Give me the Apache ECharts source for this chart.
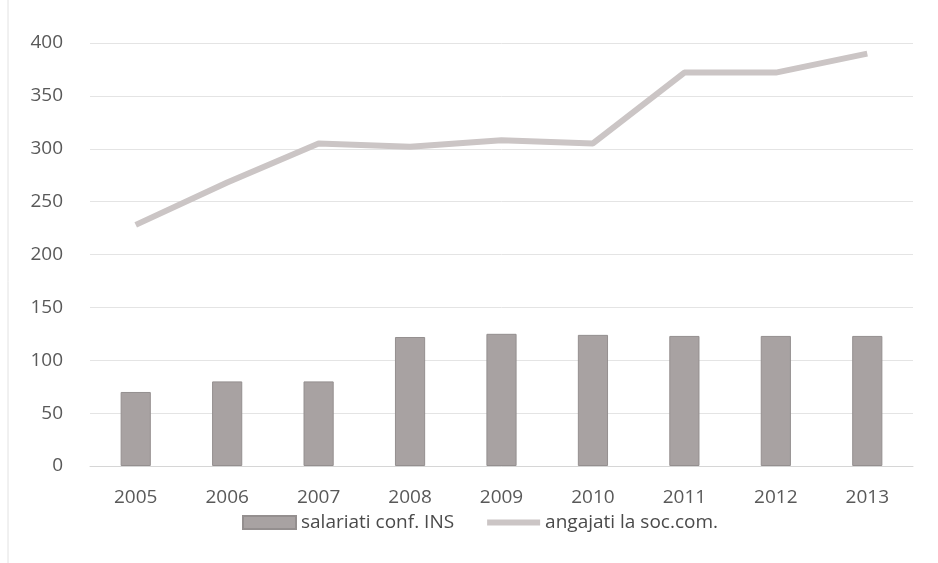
<!DOCTYPE html>
<html><head><meta charset="utf-8">
<script src="https://cdn.jsdelivr.net/npm/echarts@6/dist/echarts.min.js"></script>
<style>html,body{margin:0;padding:0;background:#fff}#c{width:938px;height:563px}</style>
</head><body><div id="c"></div>
<script>
const categories = ['2005','2006','2007','2008','2009','2010','2011','2012','2013'];
const salariati = [70, 80, 80, 122, 125, 124, 123, 123, 123];
const angajati = [228, 268, 305, 302, 308, 305, 372, 372, 390];
const yTicks = [0, 50, 100, 150, 200, 250, 300, 350, 400];

const chart = echarts.init(document.getElementById('c'));
chart.setOption({
  backgroundColor: '#fff',
  animation: false,
  textStyle: { fontFamily: 'Open Sans, Noto Sans, sans-serif' },
  grid: { left: 90, right: 25, top: 43, bottom: 97 },
  legend: {
    top: 508, left: 237, itemGap: 30, itemWidth: 53, itemHeight: 13,
    textStyle: { color: '#4a4a4a', fontSize: 19 },
    data: [
      { name: 'salariati conf. INS', icon: 'rect' },
      { name: 'angajati la soc.com.', itemStyle: { opacity: 0 }, lineStyle: { width: 6, color: '#cbc5c5' } }
    ]
  },
  xAxis: {
    type: 'category', data: categories,
    axisLine: { lineStyle: { color: '#d6d6d6' } },
    axisTick: { show: false },
    axisLabel: { color: '#595959', fontSize: 19, margin: 22 }
  },
  yAxis: {
    type: 'value', min: yTicks[0], max: yTicks[yTicks.length-1], interval: 50,
    axisLine: { show: false }, axisTick: { show: false },
    axisLabel: { color: '#595959', fontSize: 19, margin: 27 },
    splitLine: { lineStyle: { color: '#e4e4e4' } }
  },
  series: [
    {
      name: 'salariati conf. INS', type: 'bar', data: salariati, barWidth: '33%',
      itemStyle: { color: '#a8a2a2', borderColor: '#948f8f', borderWidth: 1 }
    },
    {
      name: 'angajati la soc.com.', type: 'line', data: angajati,
      symbol: 'none', lineStyle: { color: '#cbc5c5', width: 6 },
      itemStyle: { color: '#cbc5c5' }
    }
  ],
  graphic: [{ type: 'line', shape: { x1: 8, y1: 0, x2: 8, y2: 563 }, style: { stroke: '#e2e2e2', lineWidth: 1 } }]
});
</script></body></html>
